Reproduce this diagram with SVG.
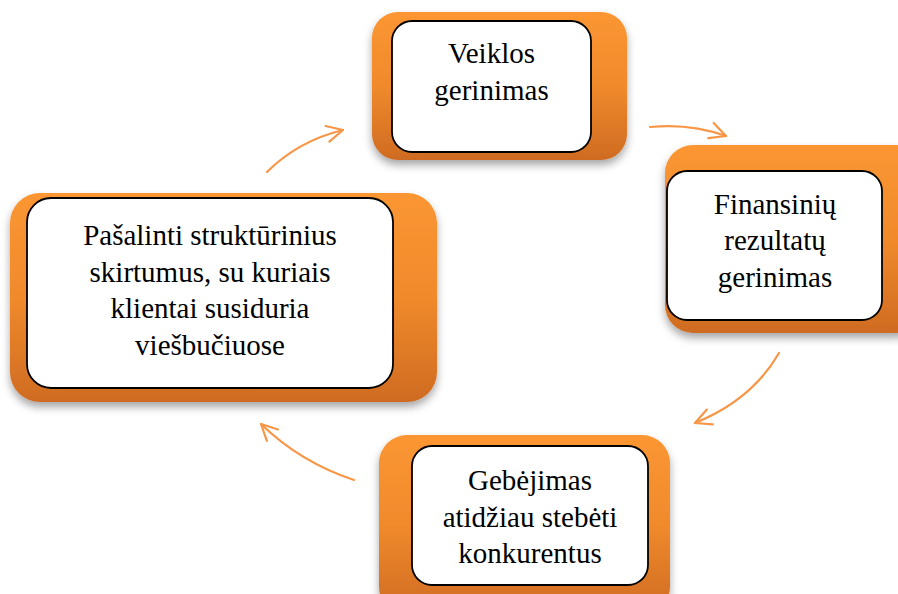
<svg xmlns="http://www.w3.org/2000/svg" width="898" height="594" viewBox="0 0 898 594">
<defs>
<linearGradient id="og" x1="0" y1="0" x2="0" y2="1">
<stop offset="0" stop-color="#FB9632"/>
<stop offset="0.5" stop-color="#F08A2C"/>
<stop offset="1" stop-color="#CF6B22"/>
</linearGradient>
<filter id="sh" x="-10%" y="-10%" width="120%" height="130%">
<feDropShadow dx="0" dy="5" stdDeviation="4" flood-color="#000" flood-opacity="0.35"/>
</filter>
<marker id="ah" viewBox="0 0 20 20" refX="18" refY="10" markerWidth="20" markerHeight="20" markerUnits="userSpaceOnUse" orient="auto">
<path d="M2,2 L18,10 L2,18" fill="none" stroke="#F79646" stroke-width="2.2" stroke-linecap="round" stroke-linejoin="round"/>
</marker>
</defs>
<style>
.outer{fill:url(#og);filter:url(#sh);}
.inner{fill:#fff;stroke:#000;stroke-width:1.8;}
.t{font-family:"Liberation Serif","Times New Roman",serif;font-size:29px;fill:#000;text-anchor:middle;}
.c{fill:none;stroke:#F79646;stroke-width:2.2;stroke-linecap:round;marker-end:url(#ah);}
</style>
<g id="connectors">
<path class="c" d="M267,172 Q298,141 343,130"/>
<path class="c" d="M650,127 Q690,123 726,136"/>
<path class="c" d="M779,353 Q752,400 695,423"/>
<path class="c" d="M354,480 Q300,462 261,424"/>
</g>
<g id="node-veiklos">
<rect class="outer" x="372" y="12" width="255" height="148" rx="26"/>
<rect class="inner" x="392" y="21" width="199" height="131" rx="20"/>
<text class="t" x="491.5" y="63">Veiklos</text>
<text class="t" x="491.5" y="100">gerinimas</text>
</g>
<g id="node-finansiniu">
<rect class="outer" x="665" y="145" width="260" height="188" rx="28"/>
<rect class="inner" x="667" y="171" width="215" height="149" rx="20"/>
<text class="t" x="775" y="214">Finansinių</text>
<text class="t" x="775" y="250">rezultatų</text>
<text class="t" x="775" y="287">gerinimas</text>
</g>
<g id="node-gebejimas">
<rect class="outer" x="379" y="435" width="291" height="180" rx="28"/>
<rect class="inner" x="412" y="446" width="236" height="139" rx="20"/>
<text class="t" x="530" y="490">Gebėjimas</text>
<text class="t" x="530" y="527">atidžiau stebėti</text>
<text class="t" x="530" y="563">konkurentus</text>
</g>
<g id="node-pasalinti">
<rect class="outer" x="10" y="193" width="427" height="209" rx="30"/>
<rect class="inner" x="27" y="198" width="366" height="190" rx="24"/>
<text class="t" x="210" y="245">Pašalinti struktūrinius</text>
<text class="t" x="210" y="282">skirtumus, su kuriais</text>
<text class="t" x="210" y="318">klientai susiduria</text>
<text class="t" x="210" y="355">viešbučiuose</text>
</g>
</svg>
